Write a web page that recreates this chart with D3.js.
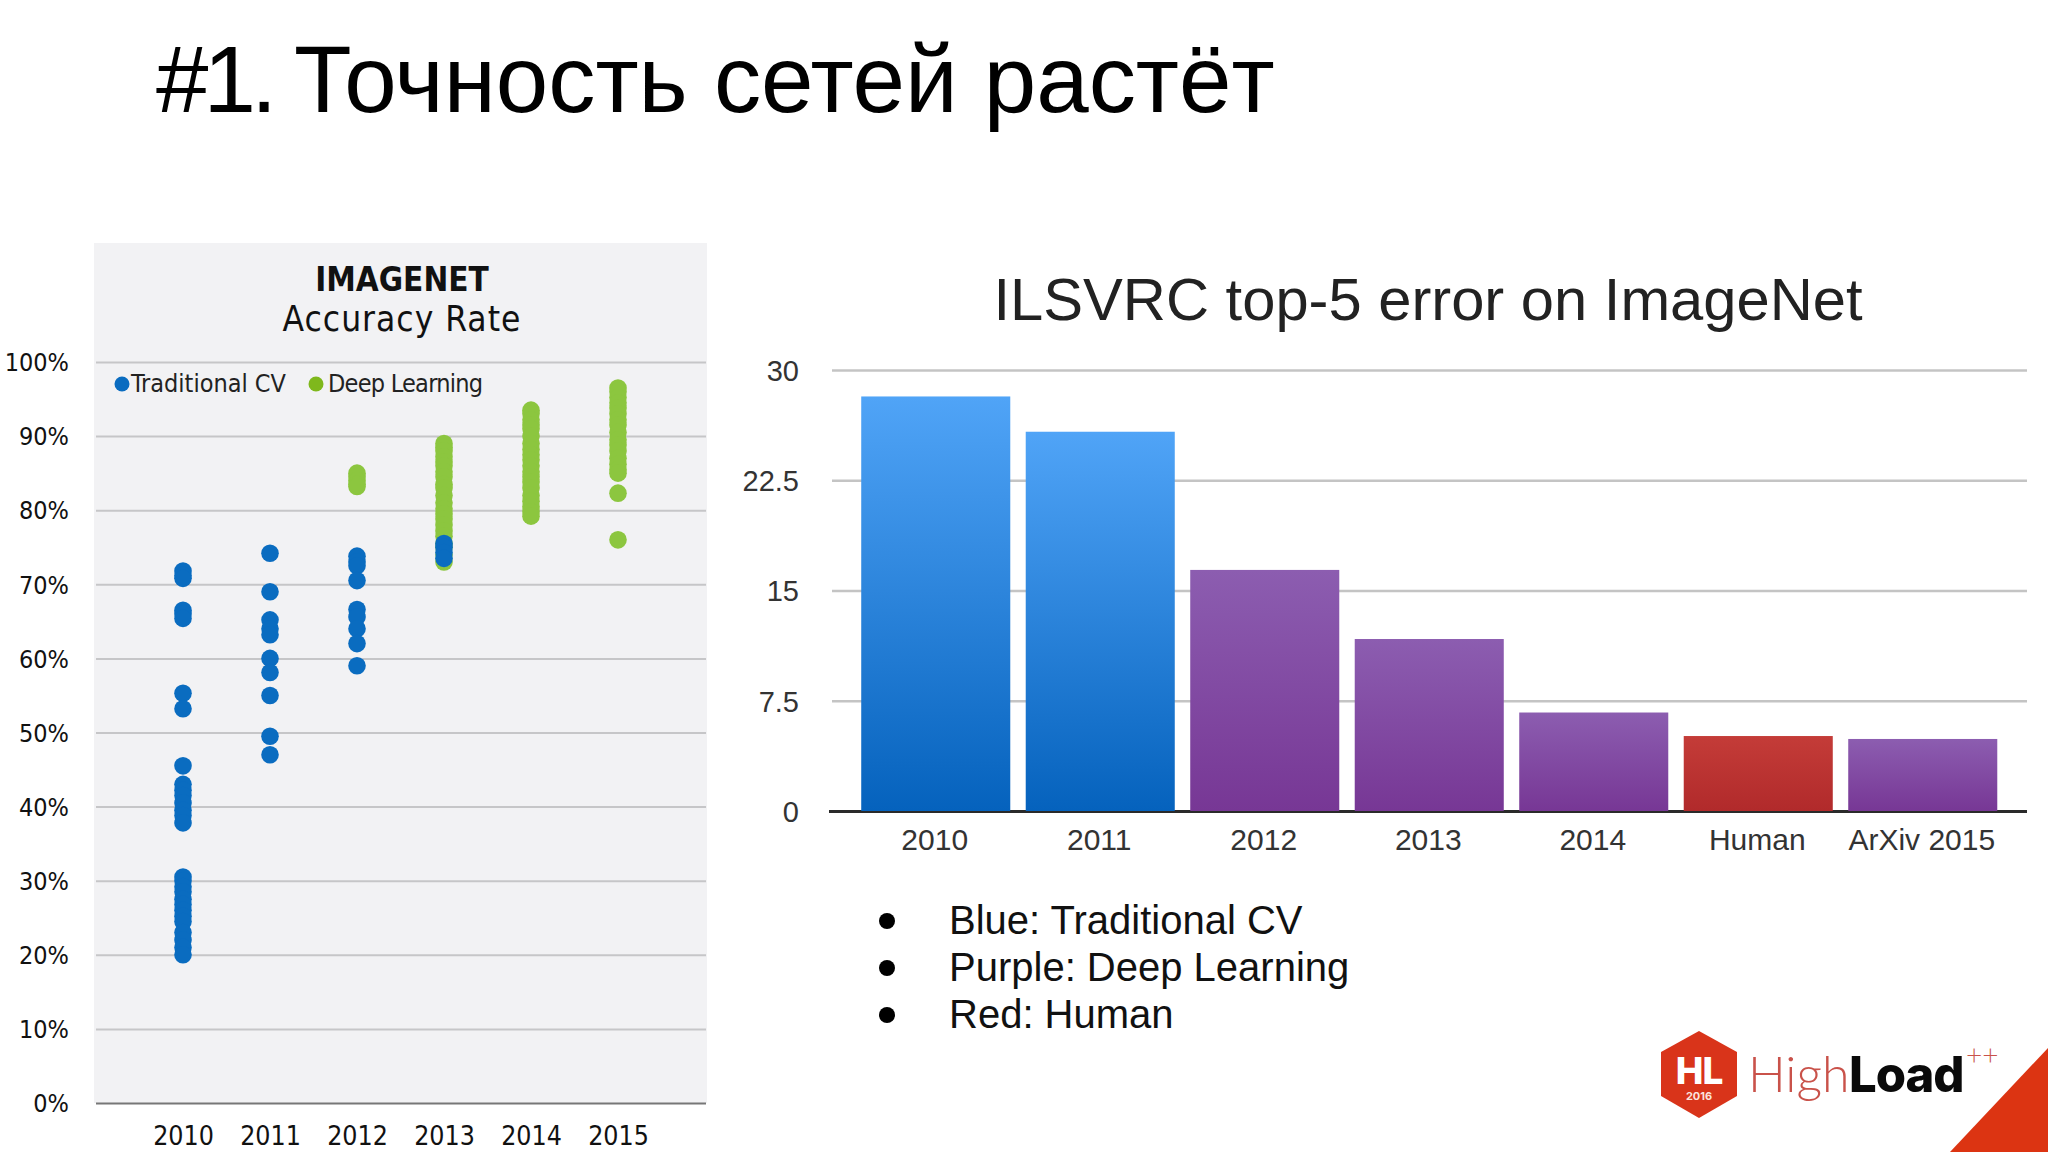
<!DOCTYPE html>
<html><head><meta charset="utf-8">
<script src="https://cdn.jsdelivr.net/npm/d3@7"></script>
<style>
html,body{margin:0;padding:0;background:#fff;overflow:hidden}
svg{display:block}
.sans{font-family:"Liberation Sans",Arial,sans-serif}
.cond{font-family:"DejaVu Sans";font-stretch:condensed}
</style></head><body>
<svg id="s" width="2048" height="1152"></svg>
<script>
const slideNumber = "#1.";
const slideTitle = "Точность сетей растёт";
const years = ["2010","2011","2012","2013","2014","2015"];
const pctTicks = [0,10,20,30,40,50,60,70,80,90,100];
const deepLearning = [
 ["2012",[85,84.5,84,83.5,83.2]],
 ["2013",[89,88.5,88,87.2,86.5,86,85.2,84.5,83.5,83,82,81,80.2,79.5,78.8,78,77.2,76.5,75.5,75,74,73]],
 ["2014",[93.5,93,92.2,91.5,91,90,89,88.2,87.5,86.8,86,85.2,84.5,83.8,83,82,81.2,80.5,79.8,79.2]],
 ["2015",[96.5,96,95.2,94.5,93.8,93,92.2,91.5,90.5,89.5,88.8,88,87,86.2,85.5,85,82.3,76]]
];
const traditional = [
 ["2010",[71.8,71.2,70.8,66.5,66,65.4,55.3,53.2,45.5,43,42.2,41.5,40.5,39.5,38.8,37.8,30.5,30,29.2,28.5,27.5,26.8,26,25.2,24.5,23,22,21,20]],
 ["2011",[74.2,69,65.2,64,63.2,60,58.1,55,49.5,47]],
 ["2012",[73.8,73,72.5,70.5,66.6,65.6,64,62,59]],
 ["2013",[75.5,75,74.3,73.5]]
];
const barCats = ["2010","2011","2012","2013","2014","Human","ArXiv 2015"];
const barVals = [28.2,25.8,16.4,11.7,6.7,5.1,4.9];
const barKinds = ["blue","blue","purple","purple","purple","red","purple"];
const barTicks = [0,7.5,15,22.5,30];
const notes = ["Blue: Traditional CV","Purple: Deep Learning","Red: Human"];

const svg = d3.select("#s");
const defs = svg.append("defs");
[["blue","#50a4f7","#0562bd"],["purple","#8c5db0","#773795"],["red","#c43c38","#b12a2b"]].forEach(([id,a,b])=>{
  const g = defs.append("linearGradient").attr("id","g-"+id).attr("x1",0).attr("x2",0).attr("y1",0).attr("y2",1);
  g.append("stop").attr("offset","0%").attr("stop-color",a);
  g.append("stop").attr("offset","100%").attr("stop-color",b);
});

// Slide title
const tt = svg.append("text").attr("class","sans").attr("y",112).attr("font-size",94.3).attr("fill","#000");
tt.append("tspan").attr("x",156).attr("letter-spacing",-5).text(slideNumber);
tt.append("tspan").attr("x",294).text(slideTitle);

// Left chart
svg.append("rect").attr("x",94).attr("y",243).attr("width",613).attr("height",860).attr("fill","#f2f2f4");
const yL = d3.scaleLinear().domain([0,100]).range([1103,362]);
const xL = d3.scalePoint().domain(years).range([183,618]);
const gyL = svg.append("g").attr("transform","translate(96,0)").attr("class","cond")
  .call(d3.axisLeft(yL).tickValues(pctTicks).tickFormat(d=>d+"%").tickSize(0).tickPadding(27));
gyL.select(".domain").remove();
gyL.selectAll("text").attr("font-size",25).attr("dy","0.35em").attr("fill","#111").attr("font-family","DejaVu Sans").style("font-stretch","condensed");
gyL.selectAll(".tick").append("line").attr("x1",0).attr("x2",610).attr("stroke",d=>d===0?"#777":"#c6c6c8").attr("stroke-width",2);
const gxL = svg.append("g").attr("transform","translate(0,1103)")
  .call(d3.axisBottom(xL).tickSize(0).tickPadding(23));
gxL.select(".domain").remove();
gxL.selectAll("text").attr("font-size",26.5).attr("fill","#111").attr("font-family","DejaVu Sans").style("font-stretch","condensed");

function dots(rows,color){
  rows.forEach(([yr,vals])=>{
    svg.append("g").selectAll("circle").data(vals).join("circle")
      .attr("cx",xL(yr)).attr("cy",d=>yL(d)).attr("r",8.8).attr("fill",color);
  });
}
dots(deepLearning,"#8cc63f");
dots(traditional,"#0a6cc0");

svg.append("text").attr("class","cond").attr("x",402).attr("y",291).attr("text-anchor","middle")
  .attr("font-size",33).attr("font-weight","bold").attr("fill","#111").text("IMAGENET");
svg.append("text").attr("class","cond").attr("x",402).attr("y",331).attr("text-anchor","middle")
  .attr("font-size",35).attr("letter-spacing",1).attr("fill","#111").text("Accuracy Rate");
svg.append("circle").attr("cx",122).attr("cy",384).attr("r",7.5).attr("fill","#0a6cc0");
svg.append("text").attr("class","cond").attr("x",131).attr("y",392).attr("font-size",25).attr("fill","#222").text("Traditional CV");
svg.append("circle").attr("cx",316).attr("cy",384).attr("r",7.5).attr("fill","#7fb81c");
svg.append("text").attr("class","cond").attr("x",328).attr("y",392).attr("font-size",25).attr("letter-spacing",-0.75).attr("fill","#222").text("Deep Learning");

// Right chart
svg.append("text").attr("class","sans").attr("x",1428).attr("y",320).attr("text-anchor","middle")
  .attr("font-size",59.7).attr("fill","#222").text("ILSVRC top-5 error on ImageNet");
const yR = d3.scaleLinear().domain([0,30]).range([811,370]);
const xR = d3.scaleBand().domain(barCats).range([853,2005.5]).paddingInner(0.094).paddingOuter(0.05);
const gyR = svg.append("g").attr("transform","translate(832,0)")
  .call(d3.axisLeft(yR).tickValues(barTicks).tickFormat(d=>d).tickSize(0).tickPadding(33));
gyR.select(".domain").remove();
gyR.selectAll("text").attr("font-size",29).attr("dy","0.36em").attr("fill","#333").attr("font-family","Liberation Sans");
gyR.selectAll(".tick").append("line").attr("x1",d=>d===0?-3:0).attr("x2",1195).attr("stroke",d=>d===0?"#2a2a2a":"#c4c4c4").attr("stroke-width",d=>d===0?3:2.5);
svg.append("g").selectAll("rect").data(barCats).join("rect")
  .attr("x",d=>xR(d)).attr("width",xR.bandwidth())
  .attr("y",(d,i)=>yR(barVals[i])).attr("height",(d,i)=>yR(0)-yR(barVals[i]))
  .attr("fill",(d,i)=>`url(#g-${barKinds[i]})`);
const gxR = svg.append("g").attr("transform","translate(-1,811)")
  .call(d3.axisBottom(xR).tickSize(0).tickPadding(18));
gxR.select(".domain").remove();
gxR.selectAll("text").attr("font-size",30).attr("fill","#333").attr("font-family","Liberation Sans");

// Notes
const noteY = d3.scalePoint().domain(notes).range([934,1028]);
notes.forEach(n=>{
  svg.append("circle").attr("cx",887).attr("cy",noteY(n)-13).attr("r",8).attr("fill","#000");
  svg.append("text").attr("class","sans").attr("x",949).attr("y",noteY(n)).attr("font-size",40).attr("fill","#111").text(n);
});

// Logo
svg.append("polygon").attr("points","1699,1031 1737,1052 1737,1096 1699,1118 1661,1096 1661,1052").attr("fill","#d9341a");
svg.append("text").attr("x",1699).attr("y",1084).attr("text-anchor","middle").attr("font-family","Inter").attr("font-weight",800).attr("font-size",37).attr("letter-spacing",-1).attr("fill","#fff").text("HL");
svg.append("text").attr("x",1699).attr("y",1100).attr("text-anchor","middle").attr("font-family","Inter").attr("font-weight",700).attr("font-size",11).attr("fill","#fbe3dd").text("2016");
svg.append("text").attr("x",1748).attr("y",1092).attr("font-family","Lato").attr("font-weight",300).attr("font-size",50).attr("fill","#c9524a").text("High");
svg.append("text").attr("x",1849).attr("y",1092).attr("font-family","Inter").attr("font-weight",800).attr("font-size",49).attr("letter-spacing",-1).attr("fill","#0a0a0a").text("Load");
svg.append("text").attr("x",1966).attr("y",1065).attr("font-family","Lato").attr("font-weight",300).attr("font-size",28).attr("fill","#c9524a").text("++");
svg.append("polygon").attr("points","1950,1152 2048,1048 2048,1152").attr("fill","#dc3412");
</script>
</body></html>
